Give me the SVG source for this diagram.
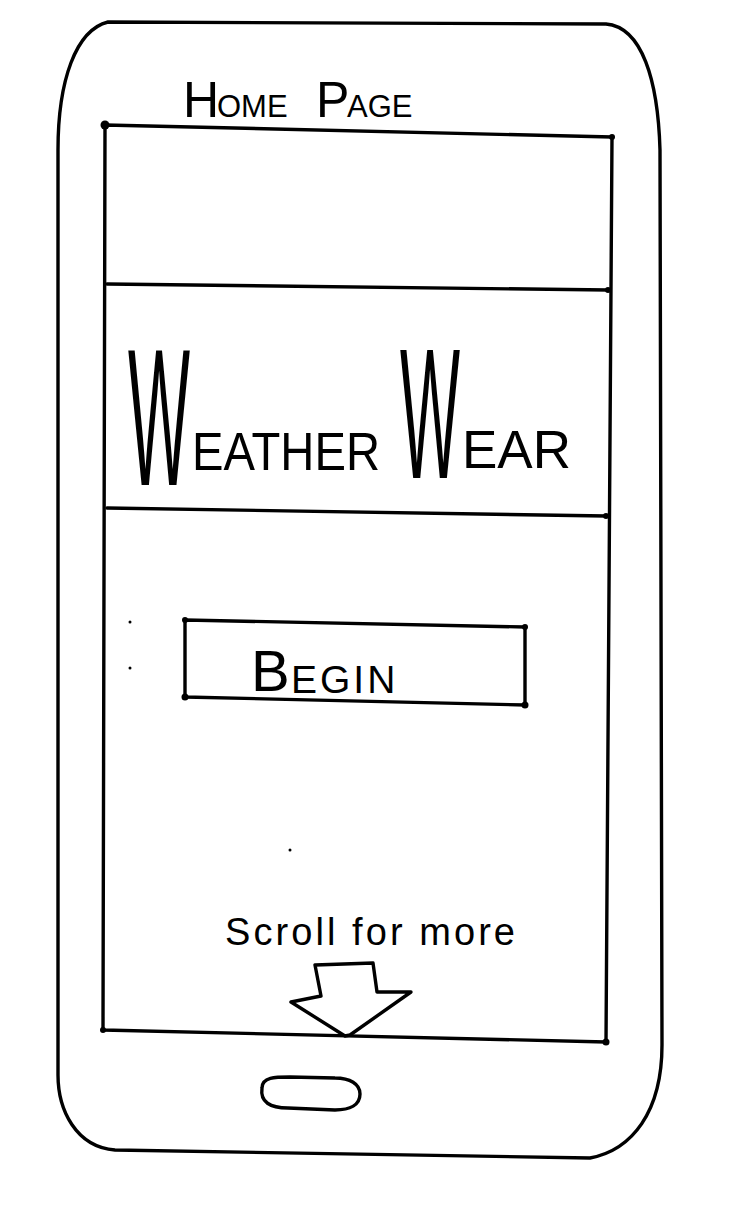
<svg xmlns="http://www.w3.org/2000/svg" width="744" height="1216" viewBox="0 0 744 1216">
<style>
.ln{fill:none;stroke:#000;stroke-width:3.4;stroke-linecap:round;stroke-linejoin:round}
.dot{fill:#000}
.hw{font-family:"Liberation Sans","DejaVu Sans",sans-serif;fill:#000}
</style>
<rect width="744" height="1216" fill="#fff"/>
<g id="phone">
<path class="ln" d="M108,22 L606,24 C642,27 658,80 660,150 L662,1045 C662,1112 632,1150 590,1158 L115,1150 C76,1147 58,1110 58,1075 L58,150 C58,80 76,30 108,22 Z"/>
<path class="ln" d="M262,1088 C262,1077 275,1077 290,1077 L335,1078 C350,1078 360,1084 360,1094 C360,1105 350,1110 335,1110 L288,1108 C270,1108 260,1102 262,1088 Z"/>
</g>
<g id="title">
<text class="hw"><tspan x="183" y="117" font-size="50">H</tspan><tspan x="217" y="117" font-size="31">OME </tspan><tspan x="316" y="117" font-size="50">P</tspan><tspan x="347" y="117" font-size="31">AGE</tspan></text>
</g>
<g id="screen">
<path class="ln" d="M105,125 L612,137 L606,1042 L103,1030 Z"/>
<circle class="dot" cx="105" cy="125" r="4.5"/>
<circle class="dot" cx="612" cy="137" r="3"/>
<circle class="dot" cx="606" cy="1042" r="3.5"/>
<circle class="dot" cx="103" cy="1030" r="3"/>
</g>
<g id="header">
<path class="ln" d="M107,284 L608,290"/>
<circle class="dot" cx="608" cy="290" r="3"/>
</g>
<g id="logo">
<path class="ln" d="M107,508 L606,516"/>
<circle class="dot" cx="606" cy="516" r="3"/>
<text class="hw"><tspan x="128" y="485" font-size="195" textLength="62" lengthAdjust="spacingAndGlyphs">W</tspan><tspan x="192" y="470" font-size="53" textLength="188" lengthAdjust="spacingAndGlyphs">EATHER</tspan><tspan x="384" y="470" font-size="12"> </tspan><tspan x="400" y="478" font-size="186" textLength="60" lengthAdjust="spacingAndGlyphs">W</tspan><tspan x="462" y="468" font-size="53">EAR</tspan></text>
</g>
<g id="begin-button">
<path class="ln" d="M185,620 L525,627 L525,705 L185,697 Z"/>
<circle class="dot" cx="185" cy="620" r="3"/>
<circle class="dot" cx="525" cy="627" r="3"/>
<circle class="dot" cx="525" cy="705" r="3.5"/>
<circle class="dot" cx="185" cy="697" r="3.5"/>
<text class="hw"><tspan x="251" y="691" font-size="58">B</tspan><tspan x="291" y="693" font-size="39" letter-spacing="3">EGIN</tspan></text>
</g>
<g id="specks">
<circle class="dot" cx="130" cy="622" r="1.5"/>
<circle class="dot" cx="130" cy="668" r="1.5"/>
<circle class="dot" cx="290" cy="850" r="1.5"/>
</g>
<g id="scroll-hint">
<text class="hw" x="225" y="945" font-size="38" textLength="290" lengthAdjust="spacing">Scroll for more</text>
</g>
<g id="connectors">
<path class="ln" d="M315,965 L373,963 L377,992 L411,992 L350,1035 L345,1036 L291,1002 L321,996 Z"/>
</g>
</svg>
